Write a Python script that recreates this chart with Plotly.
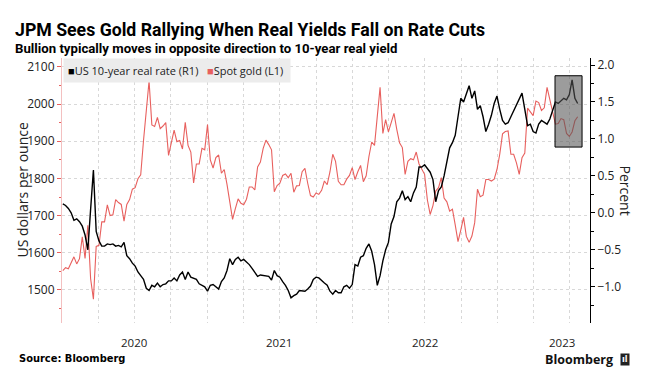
import pandas as pd
import plotly.graph_objects as go

# ---------------- data (weekly Friday readings) ----------------
gold_2020 = [1552, 1560, 1557, 1571, 1589, 1570, 1584, 1643, 1585, 1674, 1530, 1475, 1617,
             1620, 1683, 1683, 1729, 1700, 1702, 1743, 1735, 1730, 1685, 1730, 1743, 1771,
             1775, 1799, 1810, 1902, 1975, 2062, 1944, 1940, 1964, 1934, 1941, 1950, 1862,
             1900, 1930, 1899, 1902, 1879, 1951, 1889, 1871, 1788, 1839, 1839, 1881, 1877]
gold_2021 = [1945, 1850, 1828, 1856, 1863, 1814, 1824, 1784, 1734, 1690, 1719, 1745, 1733,
             1729, 1744, 1777, 1777, 1769, 1831, 1844, 1881, 1903, 1891, 1877, 1764, 1781,
             1787, 1808, 1812, 1802, 1814, 1763, 1780, 1781, 1818, 1827, 1787, 1754, 1750,
             1761, 1757, 1768, 1793, 1783, 1818, 1865, 1846, 1792, 1783, 1783, 1798, 1808, 1829]
gold_2022 = [1797, 1818, 1835, 1791, 1807, 1859, 1898, 1889, 1970, 2045, 1921, 1958,
             1925, 1947, 1975, 1932, 1896, 1883, 1811, 1846, 1853, 1850, 1871, 1839, 1826,
             1811, 1742, 1703, 1727, 1766, 1775, 1802, 1747, 1737, 1712, 1717, 1675, 1630, 1661,
             1695, 1644, 1628, 1645, 1681, 1771, 1751, 1755, 1797, 1797, 1793, 1798, 1824]
gold_2023 = [1865, 1920, 1926, 1928, 1865, 1865, 1842, 1811, 1856, 1868, 1989, 1978, 1969,
             2008, 2004, 1983, 1990, 2045, 2011, 1977, 1946, 1948, 1961, 1958, 1921, 1913,
             1925, 1955, 1966]

real_2020 = [0.12, 0.10, 0.06, 0.00, -0.10, -0.08, -0.12, -0.18, -0.30, -0.50, 0.05, 0.58, -0.25,
             -0.38, -0.45, -0.45, -0.42, -0.43, -0.42, -0.45, -0.44, -0.46, -0.40, -0.58, -0.62, -0.68,
             -0.72, -0.80, -0.85, -0.90, -1.02, -1.05, -0.98, -1.00, -0.95, -1.00, -0.97, -0.96, -0.92,
             -0.92, -0.88, -0.92, -0.84, -0.80, -0.90, -0.80, -0.87, -0.88, -0.90, -0.96, -0.98, -1.00]
real_2021 = [-1.06, -0.98, -0.97, -1.00, -1.03, -0.93, -0.88, -0.78, -0.62, -0.70, -0.63, -0.60, -0.65,
             -0.63, -0.66, -0.70, -0.75, -0.80, -0.86, -0.84, -0.85, -0.86, -0.86, -0.91, -0.78, -0.85,
             -0.87, -0.93, -0.98, -1.05, -1.15, -1.12, -1.10, -1.05, -1.06, -1.06, -1.03, -0.99, -0.90,
             -0.87, -0.88, -0.92, -0.95, -0.98, -1.06, -1.10, -1.05, -1.08, -1.08, -1.00, -0.98, -1.02, -0.97]
real_2022 = [-0.70, -0.72, -0.60, -0.58, -0.48, -0.42, -0.52, -0.70, -0.98, -0.85, -0.65, -0.50,
             -0.40, -0.15, -0.05, 0.15, 0.20, 0.30, 0.18, 0.22, 0.15, 0.27, 0.35, 0.62, 0.62,
             0.65, 0.60, 0.55, 0.45, 0.15, 0.30, 0.35, 0.50, 0.70, 0.88, 0.95, 1.05, 1.30, 1.55,
             1.50, 1.62, 1.72, 1.55, 1.65, 1.40, 1.45, 1.30, 1.10, 1.20, 1.32, 1.48, 1.58]
real_2023 = [1.40, 1.25, 1.20, 1.22, 1.30, 1.38, 1.45, 1.55, 1.62, 1.40, 1.18, 1.20, 1.10,
             1.08, 1.20, 1.25, 1.22, 1.20, 1.27, 1.40, 1.50, 1.48, 1.52, 1.55, 1.53, 1.60,
             1.80, 1.55, 1.48]

year_first_friday = ["2020-01-03", "2021-01-01", "2022-01-07", "2023-01-06"]
year_labels = ["2020", "2021", "2022", "2023"]
year_label_dates = ["2020-07-01", "2021-07-01", "2022-07-01", "2023-06-12"]

highlight_start, highlight_end = "2023-05-25", "2023-08-01"
highlight_low, highlight_high = 0.89, 1.855

RED = "#e8605e"


def weekly(values_by_year):
    dates, vals = [], []
    for start, arr in zip(year_first_friday, values_by_year):
        dates += list(pd.date_range(start, periods=len(arr), freq="W-FRI"))
        vals += arr
    return dates, vals


gold_x, gold_y = weekly([gold_2020, gold_2021, gold_2022, gold_2023])
real_x, real_y = weekly([real_2020, real_2021, real_2022, real_2023])

fig = go.Figure()
fig.add_trace(go.Scatter(x=gold_x, y=gold_y, mode="lines", name="Spot gold (L1)",
                         line=dict(color=RED, width=1.1), yaxis="y"))
fig.add_trace(go.Scatter(x=real_x, y=real_y, mode="lines", name="US 10-year real rate (R1)",
                         line=dict(color="black", width=1.4), yaxis="y2"))

TICKFONT = dict(family="Open Sans, Noto Sans, sans-serif", size=12, color="#222")

fig.update_layout(
    width=650, height=380,
    margin=dict(l=62, r=60, t=58, b=57),
    paper_bgcolor="white", plot_bgcolor="white",
    showlegend=False,
    xaxis=dict(type="date", range=["2020-01-01", "2023-08-21"],
               tick0="2020-01-01", dtick="M3", showticklabels=False, ticks="",
               showgrid=True, gridcolor="#d8d8d8", griddash="dot", gridwidth=1,
               showline=False, zeroline=False, automargin=False),
    yaxis=dict(range=[1411, 2124], tick0=1500, dtick=100, side="left",
               showgrid=True, gridcolor="#d8d8d8", griddash="dot", gridwidth=1,
               showline=True, linecolor="#f3c0c0", linewidth=1,
               ticks="outside", ticklen=4, tickcolor=RED,
               minor=dict(ticks="outside", ticklen=2, dtick=50, tickcolor=RED, showgrid=False),
               tickfont=TICKFONT, zeroline=False, automargin=False),
    yaxis2=dict(range=[-1.49, 2.095], tick0=0, dtick=0.5, side="right", overlaying="y",
                tickformat=".1f", showgrid=False, zeroline=False,
                showline=True, linecolor="black", linewidth=1,
                ticks="outside", ticklen=4, tickcolor="black",
                minor=dict(ticks="outside", ticklen=3, dtick=0.25, tickcolor="black"),
                tickfont=TICKFONT, automargin=False),
)

# highlight box
fig.add_shape(type="rect", xref="x", yref="y2",
              x0=highlight_start, x1=highlight_end, y0=highlight_low, y1=highlight_high,
              fillcolor="rgba(85,85,85,0.58)", line=dict(color="black", width=1), layer="above")

ann = []
TITLE_FONT = "Roboto, 'DejaVu Sans Condensed', sans-serif"
ann.append(dict(text="<b>JPM Sees Gold Rallying When Real Yields Fall on Rate Cuts</b>",
                xref="paper", yref="paper", x=0, y=1, xanchor="left", yanchor="middle",
                xshift=-49, yshift=28, showarrow=False,
                font=dict(family=TITLE_FONT, size=17.7, color="black")))
ann.append(dict(text="<b>Bullion typically moves in opposite direction to 10-year real yield</b>",
                xref="paper", yref="paper", x=0, y=1, xanchor="left", yanchor="middle",
                xshift=-49, yshift=10, showarrow=False,
                font=dict(family=TITLE_FONT, size=13.2, color="black")))
# legend
ann.append(dict(text="<span style='color:black'>■</span>US 10-year real rate (R1)   "
                     f"<span style='color:{RED}'>■</span>Spot gold (L1) ",
                xref="paper", yref="paper", x=0, y=1, xanchor="left", yanchor="top",
                xshift=1, yshift=0, showarrow=False, bgcolor="#ececec", borderpad=4,
                font=dict(family="Open Sans, Noto Sans, sans-serif", size=11, color="#222")))
# axis titles
ann.append(dict(text="US dollars per ounce", xref="paper", yref="paper", x=0, y=0.5,
                xanchor="center", yanchor="middle", xshift=-40, yshift=0, textangle=-90,
                showarrow=False, font=dict(family="Open Sans, Noto Sans, sans-serif", size=14, color="#222")))
ann.append(dict(text="Percent", xref="paper", yref="paper", x=1, y=0.5,
                xanchor="center", yanchor="middle", xshift=35, yshift=0, textangle=90,
                showarrow=False, font=dict(family="Open Sans, Noto Sans, sans-serif", size=14, color="#222")))
# year labels
for lab, d in zip(year_labels, year_label_dates):
    ann.append(dict(text=lab, xref="x", yref="paper", x=d, y=0, xanchor="center",
                    yanchor="middle", yshift=-19, showarrow=False,
                    font=dict(family="Open Sans, Noto Sans, sans-serif", size=11.5, color="#222")))
# footer
ann.append(dict(text="<b>Source: Bloomberg</b>", xref="paper", yref="paper", x=0, y=0,
                xanchor="left", yanchor="middle", xshift=-45, yshift=-35, showarrow=False,
                font=dict(family="'DejaVu Sans Condensed', sans-serif", size=11, color="black")))
ann.append(dict(text="<b>Bloomberg</b>", xref="paper", yref="paper", x=1, y=0,
                xanchor="right", yanchor="middle", xshift=25, yshift=-36, showarrow=False,
                font=dict(family="Open Sans, Noto Sans, sans-serif", size=12.5, color="#111")))
ann.append(dict(text="<b>ıl</b>", xref="paper", yref="paper", x=1, y=0,
                xanchor="left", yanchor="middle", xshift=30, yshift=-36, showarrow=False,
                bgcolor="#222", borderpad=1,
                font=dict(family="DejaVu Sans, sans-serif", size=8, color="white")))
fig.update_layout(annotations=ann)

fig.write_html("out.html", config={"displayModeBar": False},
               post_script="document.body.style.margin='0';document.body.style.overflow='hidden';")
